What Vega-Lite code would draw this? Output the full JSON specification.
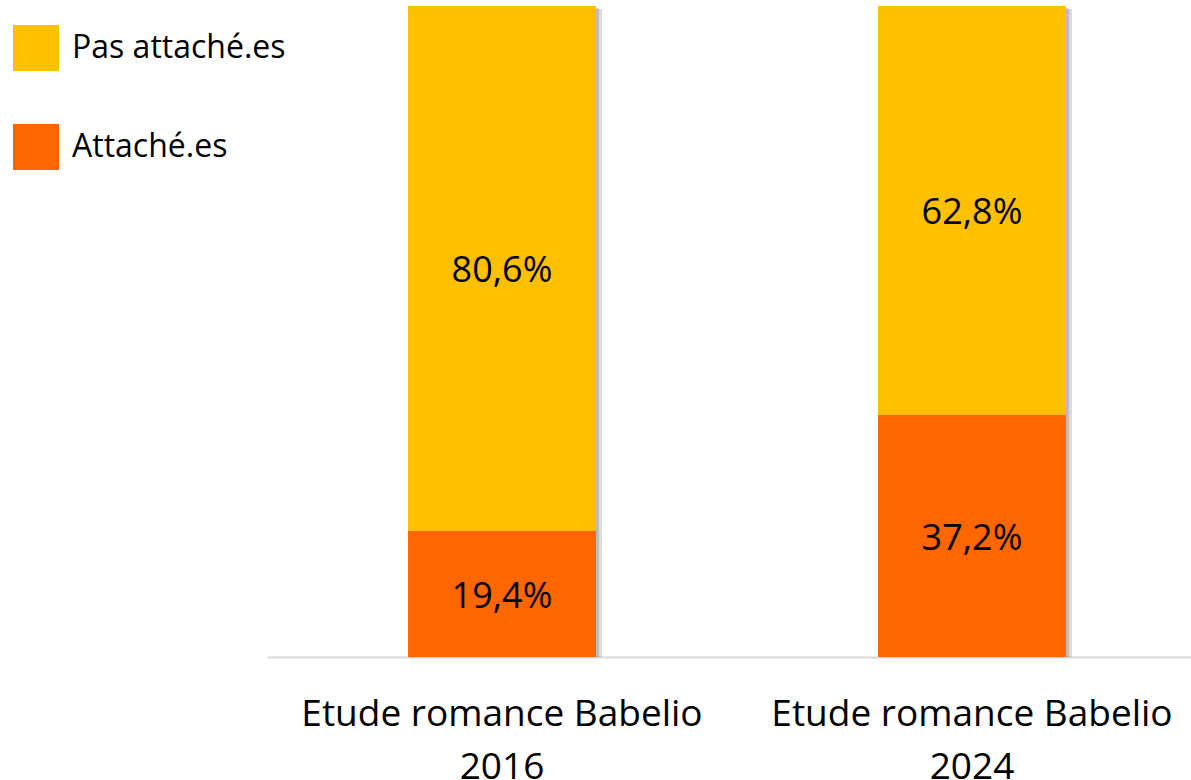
{
  "$schema": "https://vega.github.io/schema/vega-lite/v6.json",
  "autosize": {"type": "none"},
  "width": 924,
  "height": 651,
  "padding": {"left": 267, "top": 6, "right": 0, "bottom": 123},
  "background": "white",
  "config": {
    "view": {"stroke": null},
    "font": "Open Sans",
    "locale": {"number": {"decimal": ",", "thousands": " ", "grouping": [3], "currency": ["", " €"]}}
  },
  "data": {
    "values": [
      {"etude": "2016", "groupe": "Attaché.es", "part": 0.194},
      {"etude": "2016", "groupe": "Pas attaché.es", "part": 0.806},
      {"etude": "2024", "groupe": "Attaché.es", "part": 0.372},
      {"etude": "2024", "groupe": "Pas attaché.es", "part": 0.628}
    ]
  },
  "encoding": {
    "x": {
      "field": "etude",
      "type": "nominal",
      "scale": {"range": [0, 940], "paddingInner": 0.6, "paddingOuter": 0.3},
      "axis": {
        "title": null,
        "ticks": false,
        "labelAngle": 0,
        "labelFont": "Open Sans",
        "labelFontSize": 37,
        "labelColor": "#000000",
        "labelPadding": 39,
        "labelLineHeight": 53,
        "labelLimit": 1000,
        "labelExpr": "['Etude romance Babelio', datum.label]",
        "domainColor": "#d9d9d9",
        "domainWidth": 2,
        "grid": false
      }
    }
  },
  "layer": [
    {
      "mark": {"type": "bar", "color": "#000000", "opacity": 0.14, "xOffset": 3, "yOffset": 2},
      "encoding": {
        "y": {"aggregate": "sum", "field": "part", "type": "quantitative", "scale": {"domain": [0, 1]}, "axis": null}
      }
    },
    {
      "mark": {"type": "bar", "color": "#000000", "opacity": 0.14, "xOffset": 6, "yOffset": 3},
      "encoding": {
        "y": {"aggregate": "sum", "field": "part", "type": "quantitative", "scale": {"domain": [0, 1]}, "axis": null}
      }
    },
    {
      "mark": {"type": "bar"},
      "encoding": {
        "y": {"field": "part", "type": "quantitative", "stack": "zero", "scale": {"domain": [0, 1]}, "axis": null},
        "order": {"field": "groupe", "sort": "ascending"},
        "color": {
          "field": "groupe",
          "type": "nominal",
          "scale": {"domain": ["Pas attaché.es", "Attaché.es"], "range": ["#FFC000", "#FF6600"]},
          "legend": {
            "title": null,
            "orient": "none",
            "legendX": -254,
            "legendY": 19,
            "symbolType": "square",
            "symbolSize": 2116,
            "symbolStrokeWidth": 0,
            "symbolOpacity": 1,
            "labelFont": "Open Sans",
            "labelFontSize": 32,
            "labelColor": "#000000",
            "labelOffset": 13,
            "labelLimit": 1000,
            "rowPadding": 53,
            "padding": 0,
            "offset": 0
          }
        }
      }
    },
    {
      "mark": {"type": "text", "font": "Open Sans", "fontSize": 36, "color": "#000000", "baseline": "middle", "dy": 3},
      "encoding": {
        "y": {"field": "part", "type": "quantitative", "stack": "zero", "bandPosition": 0.5},
        "order": {"field": "groupe", "sort": "ascending"},
        "detail": {"field": "groupe"},
        "text": {"field": "part", "type": "quantitative", "format": ".1%"}
      }
    }
  ]
}
